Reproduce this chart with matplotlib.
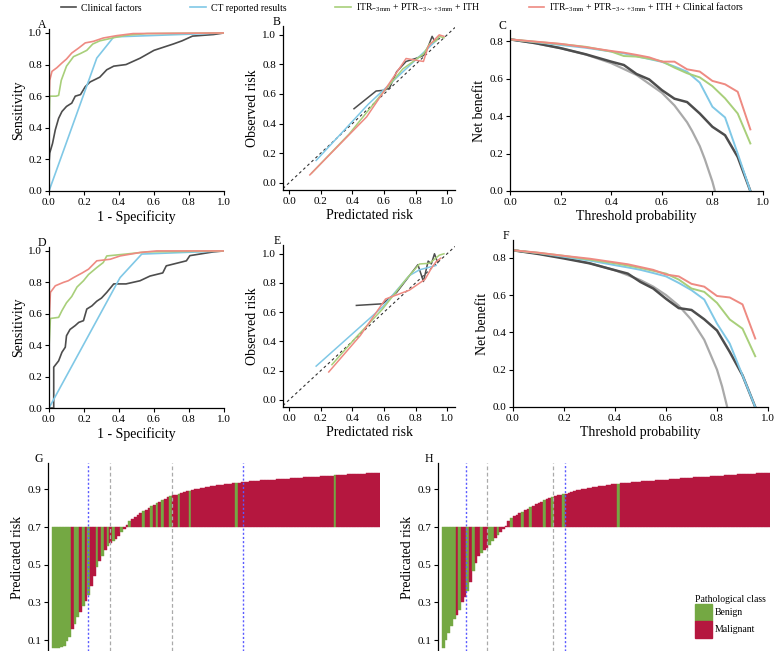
import matplotlib
matplotlib.use("Agg")
import matplotlib.pyplot as plt
from matplotlib.lines import Line2D
from matplotlib.patches import Patch

plt.rcParams['font.family'] = ['Liberation Serif', 'DejaVu Serif']
plt.rcParams['mathtext.fontset'] = 'custom'
plt.rcParams['mathtext.rm'] = 'Liberation Serif'
plt.rcParams['mathtext.it'] = 'Liberation Serif:italic'

# colours
col_clin = '#4d4d4d'
col_ct = '#80c8e6'
col_rad = '#a8cf7a'
col_comb = '#ee8a82'
col_all = '#a9a9a9'
col_benign = '#74a843'
col_malig = '#b5173f'

model_names = ['Clinical factors', 'CT reported results',
               r'ITR$_{\mathregular{-3mm}}$ + PTR$_{\mathregular{-3\sim+3mm}}$ + ITH',
               r'ITR$_{\mathregular{-3mm}}$ + PTR$_{\mathregular{-3\sim+3mm}}$ + ITH + Clinical factors']

# ---- ROC, training (A)
a_clin_fpr = [0, 0, 0.004, 0.02, 0.036, 0.055, 0.074, 0.10, 0.13, 0.15, 0.18, 0.207, 0.235, 0.29, 0.33, 0.37, 0.44, 0.52, 0.60, 0.71, 0.76, 0.82, 0.94, 1.0]
a_clin_tpr = [0, 0.175, 0.24, 0.30, 0.387, 0.46, 0.503, 0.535, 0.556, 0.60, 0.61, 0.66, 0.69, 0.72, 0.767, 0.79, 0.80, 0.84, 0.89, 0.93, 0.95, 0.98, 0.99, 1.0]
a_ct_fpr = [0, 0.273, 0.37, 1.0]
a_ct_tpr = [0, 0.841, 0.975, 1.0]
a_rad_fpr = [0, 0, 0.004, 0.04, 0.055, 0.07, 0.10, 0.14, 0.18, 0.216, 0.25, 0.29, 0.37, 0.44, 0.56, 1.0]
a_rad_tpr = [0, 0.40, 0.60, 0.60, 0.605, 0.70, 0.79, 0.85, 0.87, 0.89, 0.93, 0.95, 0.97, 0.985, 0.996, 1.0]
a_comb_fpr = [0, 0, 0.004, 0.017, 0.045, 0.074, 0.10, 0.13, 0.17, 0.207, 0.254, 0.31, 0.387, 0.48, 1.0]
a_comb_tpr = [0, 0.54, 0.70, 0.757, 0.78, 0.81, 0.835, 0.873, 0.905, 0.937, 0.947, 0.968, 0.983, 0.996, 1.0]

# ---- ROC, test (D)
d_clin_fpr = [0, 0.027, 0.027, 0.055, 0.074, 0.093, 0.10, 0.12, 0.15, 0.17, 0.197, 0.216, 0.245, 0.273, 0.30, 0.33, 0.37, 0.44, 0.52, 0.577, 0.65, 0.67, 0.785, 0.805, 0.94, 1.0]
d_clin_tpr = [0, 0, 0.26, 0.30, 0.355, 0.387, 0.46, 0.50, 0.525, 0.545, 0.556, 0.63, 0.65, 0.68, 0.70, 0.736, 0.79, 0.79, 0.81, 0.84, 0.86, 0.905, 0.937, 0.97, 0.994, 1.0]
d_ct_fpr = [0, 0.406, 0.53, 1.0]
d_ct_tpr = [0, 0.83, 0.98, 1.0]
d_rad_fpr = [0, 0, 0.008, 0.055, 0.074, 0.10, 0.13, 0.16, 0.197, 0.226, 0.273, 0.31, 0.33, 0.44, 0.56, 1.0]
d_rad_tpr = [0, 0.385, 0.57, 0.577, 0.62, 0.67, 0.71, 0.77, 0.81, 0.85, 0.894, 0.926, 0.968, 0.98, 0.994, 1.0]
d_comb_fpr = [0, 0, 0.008, 0.036, 0.083, 0.11, 0.14, 0.19, 0.226, 0.273, 0.35, 0.406, 0.52, 0.615, 1.0]
d_comb_tpr = [0, 0.54, 0.736, 0.778, 0.80, 0.81, 0.83, 0.86, 0.884, 0.937, 0.947, 0.968, 0.99, 1.0, 1.0]

# ---- calibration, training (B)
b_clin_x = [0.41, 0.55, 0.60, 0.635, 0.68, 0.74, 0.80, 0.85, 0.88, 0.905, 0.92, 0.95]
b_clin_y = [0.50, 0.62, 0.625, 0.64, 0.75, 0.82, 0.84, 0.86, 0.92, 0.99, 0.96, 0.975]
b_ct_x = [0.17, 0.50, 0.80, 0.93]
b_ct_y = [0.15, 0.53, 0.83, 0.96]
b_rad_x = [0.14, 0.38, 0.57, 0.72, 0.85, 0.89, 0.93, 0.95, 0.98]
b_rad_y = [0.063, 0.33, 0.58, 0.77, 0.87, 0.94, 0.96, 0.99, 0.98]
b_comb_x = [0.13, 0.49, 0.74, 0.85, 0.88, 0.905, 0.95, 0.98]
b_comb_y = [0.052, 0.445, 0.84, 0.82, 0.92, 0.95, 1.0, 0.99]

# ---- calibration, test (E)
e_clin_x = [0.425, 0.59, 0.68, 0.815, 0.85, 0.88, 0.90, 0.92, 0.94]
e_clin_y = [0.646, 0.657, 0.735, 0.925, 0.81, 0.95, 0.93, 1.0, 0.94]
e_ct_x = [0.17, 0.59, 0.76, 0.825, 0.93]
e_ct_y = [0.23, 0.635, 0.85, 0.89, 0.92]
e_rad_x = [0.27, 0.425, 0.59, 0.74, 0.825, 0.89, 0.95, 0.98]
e_rad_y = [0.24, 0.43, 0.62, 0.825, 0.93, 0.935, 0.99, 1.0]
e_comb_x = [0.25, 0.45, 0.61, 0.76, 0.86, 0.90, 0.93, 0.96]
e_comb_y = [0.19, 0.44, 0.69, 0.75, 0.825, 0.90, 0.945, 0.97]

# ---- decision curves (C training, F test)
dca_thr = [0.0, 0.1, 0.2, 0.3, 0.4, 0.45, 0.5, 0.55, 0.6, 0.65, 0.7, 0.75, 0.8, 0.85, 0.9, 0.95]
c_clin = [0.81, 0.79, 0.763, 0.73, 0.691, 0.673, 0.625, 0.596, 0.539, 0.493, 0.475, 0.414, 0.343, 0.298, 0.182, 0.0]
c_ctr = [0.81, 0.795, 0.78, 0.765, 0.745, 0.735, 0.72, 0.705, 0.69, 0.665, 0.637, 0.579, 0.45, 0.393, 0.2, 0.0]
c_radv = [0.81, 0.797, 0.785, 0.77, 0.745, 0.721, 0.718, 0.707, 0.693, 0.659, 0.629, 0.607, 0.56, 0.495, 0.414, 0.254]
c_combv = [0.81, 0.798, 0.786, 0.768, 0.748, 0.739, 0.727, 0.714, 0.691, 0.691, 0.65, 0.638, 0.588, 0.57, 0.53, 0.329]
c_all_thr = [0.0, 0.1, 0.2, 0.3, 0.4, 0.5, 0.6, 0.65, 0.7, 0.72, 0.75, 0.77, 0.8, 0.81]
c_allv = [0.81, 0.789, 0.763, 0.729, 0.683, 0.62, 0.525, 0.457, 0.367, 0.32, 0.24, 0.17, 0.05, 0.0]

f_clin = [0.84, 0.82, 0.796, 0.77, 0.733, 0.715, 0.67, 0.635, 0.58, 0.53, 0.52, 0.47, 0.41, 0.295, 0.17, 0.0]
f_ctr = [0.84, 0.825, 0.805, 0.785, 0.76, 0.748, 0.735, 0.718, 0.70, 0.665, 0.626, 0.576, 0.447, 0.34, 0.17, 0.0]
f_radv = [0.84, 0.826, 0.81, 0.79, 0.77, 0.758, 0.745, 0.73, 0.715, 0.683, 0.635, 0.617, 0.558, 0.469, 0.42, 0.272]
f_combv = [0.84, 0.827, 0.81, 0.795, 0.775, 0.765, 0.75, 0.735, 0.71, 0.70, 0.66, 0.645, 0.595, 0.587, 0.55, 0.367]
f_all_thr = [0.0, 0.1, 0.2, 0.3, 0.4, 0.5, 0.55, 0.6, 0.65, 0.7, 0.75, 0.8, 0.82, 0.84]
f_allv = [0.84, 0.822, 0.80, 0.771, 0.733, 0.68, 0.645, 0.60, 0.543, 0.467, 0.36, 0.20, 0.11, 0.0]

# ---- waterfall of predicted risk (G training, H test), cut-off 0.7
cutoff = 0.7
g_risk = [0.058, 0.058, 0.06, 0.062, 0.07, 0.095, 0.115, 0.16, 0.187, 0.225,
          0.25, 0.28, 0.31, 0.34, 0.385, 0.44, 0.49, 0.52, 0.545, 0.576,
          0.598, 0.615, 0.627, 0.635, 0.652, 0.673, 0.69, 0.71, 0.73, 0.745,
          0.755, 0.765, 0.775, 0.785, 0.79, 0.80, 0.81, 0.815, 0.83, 0.835,
          0.845, 0.85, 0.86, 0.865, 0.868, 0.871, 0.874, 0.88, 0.885, 0.889,
          0.893, 0.897, 0.90, 0.903, 0.906, 0.909, 0.912, 0.915, 0.918, 0.92,
          0.921, 0.923, 0.925, 0.927, 0.928, 0.93, 0.932, 0.933, 0.935, 0.937,
          0.939, 0.94, 0.942, 0.943, 0.945, 0.946, 0.948, 0.949, 0.95, 0.95,
          0.951, 0.952, 0.953, 0.954, 0.955, 0.956, 0.957, 0.958, 0.96, 0.961,
          0.962, 0.963, 0.964, 0.965, 0.966, 0.966, 0.967, 0.968, 0.969, 0.97,
          0.971, 0.972, 0.973, 0.974, 0.975, 0.976, 0.977, 0.978, 0.979, 0.98,
          0.981, 0.982, 0.983, 0.983, 0.984, 0.985, 0.986, 0.987, 0.988, 0.988]
g_benign = [0, 1, 2, 3, 4, 5, 6, 8, 9, 11, 13, 16, 18, 20, 22, 25, 28, 33, 36, 38, 40, 43, 46, 50, 67, 103]
g_vlines_blue = [12.9, 69.3]
g_vlines_gray = [20.7, 43.3]

h_risk = [0.06, 0.10, 0.135, 0.175, 0.21, 0.235, 0.26, 0.30, 0.33, 0.36,
          0.41, 0.465, 0.51, 0.545, 0.562, 0.576, 0.588, 0.603, 0.624, 0.643,
          0.658, 0.672, 0.687, 0.707, 0.733, 0.75, 0.758, 0.765, 0.772, 0.78,
          0.79, 0.797, 0.805, 0.812, 0.82, 0.828, 0.835, 0.842, 0.85, 0.855,
          0.86, 0.865, 0.868, 0.871, 0.874, 0.878, 0.882, 0.887, 0.893, 0.896,
          0.899, 0.901, 0.903, 0.905, 0.908, 0.91, 0.913, 0.916, 0.918, 0.92,
          0.922, 0.924, 0.927, 0.929, 0.931, 0.933, 0.934, 0.935, 0.936, 0.938,
          0.939, 0.94, 0.941, 0.942, 0.943, 0.944, 0.946, 0.947, 0.948, 0.949,
          0.95, 0.951, 0.952, 0.954, 0.955, 0.956, 0.957, 0.958, 0.959, 0.96,
          0.962, 0.963, 0.964, 0.965, 0.966, 0.966, 0.967, 0.968, 0.969, 0.97,
          0.971, 0.972, 0.973, 0.974, 0.975, 0.976, 0.977, 0.978, 0.979, 0.98,
          0.981, 0.982, 0.983, 0.983, 0.984, 0.985, 0.986, 0.987, 0.988, 0.988]
h_benign = [0, 1, 2, 3, 4, 6, 9, 11, 14, 17, 18, 20, 25, 29, 32, 37, 40, 44, 64]
h_vlines_blue = [8.5, 44.4]
h_vlines_gray = [16.2, 40.1]

W, H = 778, 651
fig = plt.figure(figsize=(W / 100, H / 100), dpi=100)


def px_axes(left, top, right, bottom):
    return fig.add_axes([left / W, 1 - bottom / H, (right - left) / W, (bottom - top) / H])


def style(ax, letter):
    for s in ['top', 'right']:
        ax.spines[s].set_visible(False)
    for s in ['left', 'bottom']:
        ax.spines[s].set_linewidth(0.9)
    ax.tick_params(direction='out', length=3, width=0.8, labelsize=8, pad=2)
    ax.text(-0.015, 0.99, letter, transform=ax.transAxes, ha='right', va='bottom', fontsize=8.5)


ticks01 = [0.0, 0.2, 0.4, 0.6, 0.8, 1.0]
model_cols = [col_clin, col_ct, col_rad, col_comb]

# ROC panels
for letter, box, curves in [
        ('A', (49, 29, 224, 191), [(a_clin_fpr, a_clin_tpr), (a_ct_fpr, a_ct_tpr), (a_rad_fpr, a_rad_tpr), (a_comb_fpr, a_comb_tpr)]),
        ('D', (49, 247, 224, 408), [(d_clin_fpr, d_clin_tpr), (d_ct_fpr, d_ct_tpr), (d_rad_fpr, d_rad_tpr), (d_comb_fpr, d_comb_tpr)])]:
    ax = px_axes(*box)
    for (x, y), c in zip(curves, model_cols):
        ax.plot(x, y, color=c, lw=1.2)
    ax.set_xlim(0, 1.0)
    ax.set_ylim(0, 1.025)
    ax.set_xticks(ticks01)
    ax.set_yticks(ticks01)
    ax.set_xticklabels(['%.1f' % t for t in ticks01])
    ax.set_yticklabels(['%.1f' % t for t in ticks01])
    ax.set_xlabel('1 - Specificity', fontsize=10, labelpad=2)
    ax.set_ylabel('Sensitivity', fontsize=10, labelpad=2)
    style(ax, letter)

# calibration panels
for letter, box, curves in [
        ('B', (283, 26, 455, 190), [(b_clin_x, b_clin_y), (b_ct_x, b_ct_y), (b_rad_x, b_rad_y), (b_comb_x, b_comb_y)]),
        ('E', (283, 245, 455, 407), [(e_clin_x, e_clin_y), (e_ct_x, e_ct_y), (e_rad_x, e_rad_y), (e_comb_x, e_comb_y)])]:
    ax = px_axes(*box)
    ax.plot([-0.04, 1.05], [-0.04, 1.05], color='#333333', lw=0.8, ls=(0, (2.5, 2.5)))
    for (x, y), c in zip(curves, model_cols):
        ax.plot(x, y, color=c, lw=1.1)
    ax.set_xlim(-0.04, 1.05)
    ax.set_ylim(-0.05, 1.06)
    ax.set_xticks(ticks01)
    ax.set_yticks(ticks01)
    ax.set_xticklabels(['%.1f' % t for t in ticks01])
    ax.set_yticklabels(['%.1f' % t for t in ticks01])
    ax.set_xlabel('Predictated risk', fontsize=10, labelpad=2)
    ax.set_ylabel('Observed risk', fontsize=10, labelpad=2)
    style(ax, letter)

# decision curves
for letter, box, ytop, vals, all_thr, all_v in [
        ('C', (510, 30, 763, 191), 0.86, [c_clin, c_ctr, c_radv, c_combv], c_all_thr, c_allv),
        ('F', (513, 240, 768, 407), 0.895, [f_clin, f_ctr, f_radv, f_combv], f_all_thr, f_allv)]:
    ax = px_axes(*box)
    ax.plot(all_thr, all_v, color=col_all, lw=1.6)
    for v, c, lw in zip(vals, model_cols, [1.8, 1.4, 1.4, 1.4]):
        ax.plot(dca_thr, v, color=c, lw=lw)
    ax.set_xlim(0, 1.0)
    ax.set_ylim(0, ytop)
    ax.set_xticks(ticks01)
    ax.set_yticks([0.0, 0.2, 0.4, 0.6, 0.8])
    ax.set_xticklabels(['%.1f' % t for t in ticks01])
    ax.set_yticklabels(['0.0', '0.2', '0.4', '0.6', '0.8'])
    ax.set_xlabel('Threshold probability', fontsize=10, labelpad=2)
    ax.set_ylabel('Net benefit', fontsize=10, labelpad=2)
    style(ax, letter)

# waterfall panels
for letter, box, risk, benign, vb, vg in [
        ('G', (48, 463, 380, 651), g_risk, g_benign, g_vlines_blue, g_vlines_gray),
        ('H', (438, 463, 770, 651), h_risk, h_benign, h_vlines_blue, h_vlines_gray)]:
    ax = px_axes(*box)
    xs = list(range(len(risk)))
    cols = [col_benign if i in benign else col_malig for i in xs]
    ax.bar(xs, [r - cutoff for r in risk], bottom=cutoff, width=1.0, color=cols,
           edgecolor=cols, linewidth=0.3)
    for x in vb:
        ax.axvline(x, color='#5a5aff', lw=1.0, ls=(0, (1.5, 1.5)))
    for x in vg:
        ax.axvline(x, color='#aaaaaa', lw=0.9, ls=(0, (3, 2)))
    ax.set_xlim(-1.9, len(risk) - 0.5)
    ax.set_ylim(0.042, 1.04)
    ax.set_yticks([0.1, 0.3, 0.5, 0.7, 0.9])
    ax.set_xticks([])
    ax.spines['bottom'].set_visible(False)
    ax.set_ylabel('Predicated risk', fontsize=10, labelpad=2)
    style(ax, letter)
    if letter == 'H':
        leg = ax.legend(handles=[Patch(color=col_benign), Patch(color=col_malig)],
                        labels=['Benign', 'Malignant'], title='Pathological class',
                        loc='lower left', bbox_to_anchor=(0.755, 0.035), frameon=False,
                        fontsize=7, title_fontsize=7, handlelength=1.7, handleheight=2.3,
                        handletextpad=0.25, labelspacing=0.0, borderpad=0.2)
        leg._legend_box.align = 'left'

# shared legend on top
handles = [Line2D([], [], color=c, lw=1.2) for c in model_cols]
fig.legend(handles, model_names, loc='upper left', bbox_to_anchor=(55 / W, 1.0 + 5 / H), ncol=4,
           frameon=False, fontsize=7, handlelength=1.6, handletextpad=0.5, columnspacing=5.0,
           borderpad=0.1)

fig.savefig('out.png', dpi=100)
